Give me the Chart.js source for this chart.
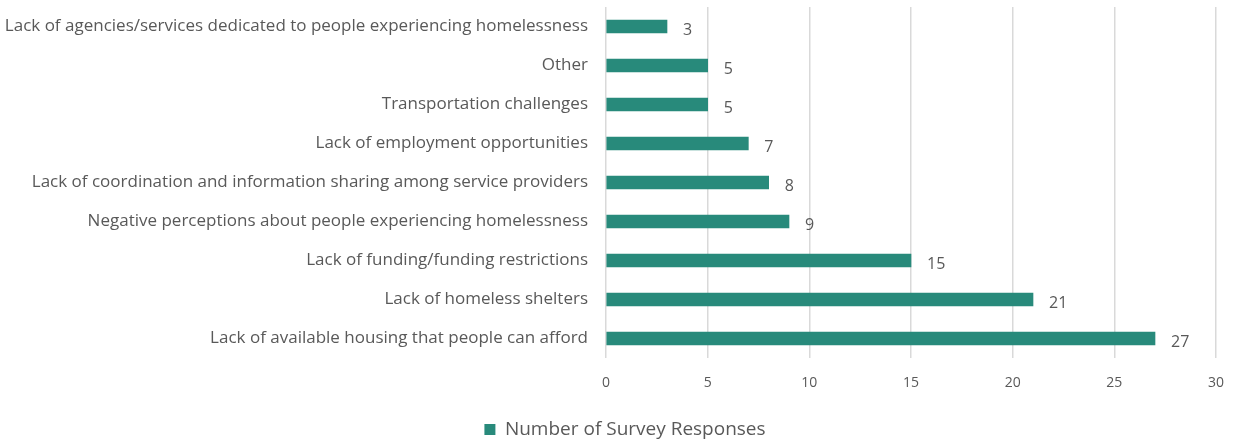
<!DOCTYPE html>
<html>
<head>
<meta charset="utf-8">
<script src="https://cdn.jsdelivr.net/npm/chart.js@4"></script>
<style>
  html, body { margin: 0; padding: 0; background: #fff; }
  #wrap { width: 1236px; height: 443px; }
</style>
</head>
<body>
<div id="wrap"><canvas id="barriers"></canvas></div>
<script>
// Barreiras citadas na pesquisa (de cima para baixo)
const categorias = [
  'Lack of agencies/services dedicated to people experiencing homelessness',
  'Other',
  'Transportation challenges',
  'Lack of employment opportunities',
  'Lack of coordination and information sharing among service providers',
  'Negative perceptions about people experiencing homelessness',
  'Lack of funding/funding restrictions',
  'Lack of homeless shelters',
  'Lack of available housing that people can afford'
];
const respostas = [3, 5, 5, 7, 8, 9, 15, 21, 27];
const serieNome = 'Number of Survey Responses';
const eixoMin = 0, eixoMax = 30, eixoPasso = 5;

const COR_BARRA = '#288a7b';
const COR_TEXTO = '#595959';
const COR_GRADE = '#d9d9d9';
const FONTE = '"Open Sans", Lato, sans-serif';

// rótulo de valor logo depois do fim de cada barra
const rotulosValor = {
  id: 'rotulosValor',
  afterDatasetsDraw(chart) {
    const ctx = chart.ctx;
    const meta = chart.getDatasetMeta(0);
    ctx.save();
    ctx.font = '16px ' + FONTE;
    ctx.fillStyle = COR_TEXTO;
    ctx.textAlign = 'left';
    ctx.textBaseline = 'middle';
    meta.data.forEach((bar, i) => {
      ctx.fillText(String(respostas[i]), bar.x + 16, bar.y + 4);
    });
    ctx.restore();
  }
};

// legenda um pouco à direita do centro da tela
const deslocaLegenda = {
  id: 'deslocaLegenda',
  afterLayout(chart) {
    if (!chart.legend) return;
    chart.legend.left += 17;
    chart.legend.right += 17;
  }
};

new Chart(document.getElementById('barriers'), {
  type: 'bar',
  data: {
    labels: categorias,
    datasets: [{
      label: serieNome,
      data: respostas,
      backgroundColor: COR_BARRA,
      borderWidth: 0,
      barThickness: 13
    }]
  },
  options: {
    indexAxis: 'y',
    responsive: true,
    maintainAspectRatio: false,
    animation: false,
    // legenda um pouco mais baixa: margem inferior negativa
    layout: { padding: { top: 7, right: 20, left: 0, bottom: -6 } },
    scales: {
      x: {
        min: eixoMin, max: eixoMax,
        ticks: { stepSize: eixoPasso, color: COR_TEXTO, font: { family: FONTE, size: 14 }, padding: 17 },
        grid: { color: COR_GRADE, lineWidth: 1.5, drawTicks: false },
        border: { display: false },
        afterFit(scale) {
          scale.height = 60;
          scale.paddingLeft = 0;
          scale.paddingRight = 0;
        }
      },
      y: {
        ticks: { color: COR_TEXTO, font: { family: FONTE, size: 17 }, padding: 18 },
        grid: { display: false, drawTicks: false },
        border: { display: false },
        afterFit(scale) {
          scale.width = 606;
          scale.paddingTop = 0;
          scale.paddingBottom = 0;
        }
      }
    },
    plugins: {
      legend: {
        position: 'bottom',
        labels: {
          color: COR_TEXTO,
          font: { family: FONTE, size: 19 },
          boxWidth: 11, boxHeight: 11,
          padding: 2
        }
      },
      tooltip: { enabled: false }
    }
  },
  plugins: [rotulosValor, deslocaLegenda]
});
</script>
</body>
</html>
